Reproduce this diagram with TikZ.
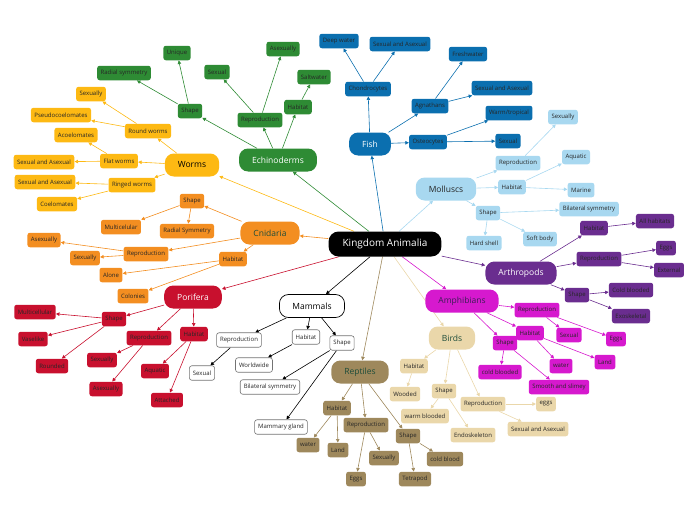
\documentclass[tikz,border=0pt]{standalone}
\usepackage{fontspec}
\setmainfont{Open Sans}
\usetikzlibrary{arrows.meta,backgrounds}
\definecolor{wormc}{HTML}{FDB913}
\definecolor{echc}{HTML}{2E8B34}
\definecolor{fishc}{HTML}{0B6FAF}
\definecolor{molc}{HTML}{A8D8F0}
\definecolor{artc}{HTML}{6A2D8F}
\definecolor{ampc}{HTML}{D619CE}
\definecolor{birc}{HTML}{EAD7AA}
\definecolor{repc}{HTML}{9E885C}
\definecolor{cnic}{HTML}{F38E21}
\definecolor{porc}{HTML}{C8102E}
\definecolor{darkgreen}{HTML}{1E4D3A}
\tikzset{
  root/.style={fill=black, text=white, rounded corners=10pt, minimum height=25pt, inner xsep=14pt, font=\fontsize{10}{12}\selectfont},
  hub/.style={rounded corners=9pt, minimum height=23pt, inner xsep=13pt, font=\fontsize{8.5}{10}\selectfont},
  leaf/.style={rounded corners=2.5pt, minimum height=14.5pt, inner xsep=3.5pt, inner ysep=1pt, text=black!85, font=\fontsize{6}{7}\selectfont},
  link/.style={-{Triangle[length=3.5pt,width=3.5pt]}, line width=0.6pt},
  worm/.style={leaf, fill=wormc}, echi/.style={leaf, fill=echc}, fish/.style={leaf, fill=fishc},
  moll/.style={leaf, fill=molc}, arth/.style={leaf, fill=artc}, amph/.style={leaf, fill=ampc},
  bird/.style={leaf, fill=birc}, rept/.style={leaf, fill=repc}, cnid/.style={leaf, fill=cnic},
  pori/.style={leaf, fill=porc}, mamm/.style={leaf, fill=white, draw=black!55, line width=0.6pt},
}
\begin{document}
\begin{tikzpicture}[x=1pt, y=-1pt]
	\useasboundingbox (0,0) rectangle (696,520);
	% Centre and main groups:
	\node[root] (kingdom) at (385,244) {Kingdom Animalia};
	\node[hub, fill=wormc] (worms) at (192,165) {Worms};
	\node[hub, fill=echc, text=white] (echinoderms) at (278,160) {Echinoderms};
	\node[hub, fill=fishc, text=white] (fish) at (370,144) {Fish};
	\node[hub, fill=molc, text=black!85] (molluscs) at (446,189) {Molluscs};
	\node[hub, fill=artc, text=white] (arthropods) at (521,273) {Arthropods};
	\node[hub, fill=ampc, text={rgb,255:red,58;green,30;blue,85}] (amphibians) at (462,301) {Amphibians};
	\node[hub, fill=birc, text=darkgreen] (birds) at (452,338) {Birds};
	\node[hub, fill=repc, text=darkgreen] (reptiles) at (360,372) {Reptiles};
	\node[hub, fill=white, draw=black, line width=0.7pt] (mammals) at (312,306) {Mammals};
	\node[hub, fill=cnic, text=darkgreen] (cnidaria) at (270,233) {Cnidaria};
	\node[hub, fill=porc, text=white] (porifera) at (193,297) {Porifera};
	% Worms
	\node[worm] (wround) at (148,131) {Round worms};
	\node[worm] (wflat) at (119,161) {Flat worms};
	\node[worm] (wringed) at (132,185) {Ringed worms};
	\node[worm] (wsexually) at (91,94) {Sexually};
	\node[worm] (wpseudo) at (61,115) {Pseudocoelomates};
	\node[worm] (wacoel) at (76,135) {Acoelomates};
	\node[worm] (wsexasex) at (44,162) {Sexual and Asexual};
	\node[worm] (wsexasexb) at (45,182) {Sexual and Asexual};
	\node[worm] (wcoel) at (57,204) {Coelomates};
	% Echinoderms
	\node[echi] (eshape) at (190,111) {Shape};
	\node[echi] (erepro) at (260,120) {Reproduction};
	\node[echi] (ehabitat) at (298,107) {Habitat};
	\node[echi] (eunique) at (177,53) {Unique};
	\node[echi] (eradial) at (124,73) {Radial symmetry};
	\node[echi] (esexual) at (217,72) {Sexual};
	\node[echi] (easexually) at (283,49) {Asexually};
	\node[echi] (esalt) at (314,77) {Saltwater};
	% Fish
	\node[fish] (fchondro) at (368,89) {Chondrocytes};
	\node[fish] (fagnath) at (430,106) {Agnathans};
	\node[fish] (fosteo) at (428,142) {Osteocytes};
	\node[fish] (fdeep) at (339,41) {Deep water};
	\node[fish] (fsexasex) at (400,44) {Sexual and Asexual};
	\node[fish] (ffresh) at (468,54) {Freshwater};
	\node[fish] (fsexasexb) at (502,88) {Sexual and Asexual};
	\node[fish] (fwarm) at (509,113) {Warm/tropical};
	\node[fish] (fsexual) at (508,141) {Sexual};
	% Molluscs
	\node[moll] (mrepro) at (518,163) {Reproduction};
	\node[moll] (mhabitat) at (512,187) {Habitat};
	\node[moll] (mshape) at (488,213) {Shape};
	\node[moll] (msexually) at (563,117) {Sexually};
	\node[moll] (maquatic) at (576,157) {Aquatic};
	\node[moll] (mmarine) at (581,190) {Marine};
	\node[moll] (mbilat) at (589,209) {Bilateral symmetry};
	\node[moll] (mhard) at (484,243) {Hard shell};
	\node[moll] (msoft) at (540,239) {Soft body};
	% Arthropods
	\node[arth] (ahabitat) at (594,228) {Habitat};
	\node[arth] (arepro) at (599,259) {Reproduction};
	\node[arth] (ashape) at (577,295) {Shape};
	\node[arth] (aall) at (655,221) {All habitats};
	\node[arth] (aeggs) at (666,248) {Eggs};
	\node[arth] (aext) at (669,270) {External};
	\node[arth] (acold) at (631,290) {Cold blooded};
	\node[arth] (aexo) at (631,316) {Exoskeletal};
	% Amphibians
	\node[amph] (prepro) at (537,310) {Reproduction};
	\node[amph] (pshape) at (505,343) {Shape};
	\node[amph] (phabitat) at (530,333) {Habitat};
	\node[amph] (psexual) at (569,335) {Sexual};
	\node[amph] (peggs) at (616,339) {Eggs};
	\node[amph] (pwater) at (561,366) {water};
	\node[amph] (pland) at (605,362) {Land};
	\node[amph] (pcold) at (500,372) {cold blooded};
	\node[amph] (psmooth) at (559,387) {Smooth and slimey};
	% Birds
	\node[bird] (bhabitat) at (414,366) {Habitat};
	\node[bird] (bshape) at (444,391) {Shape};
	\node[bird] (brepro) at (483,404) {Reproduction};
	\node[bird] (bwooded) at (405,394) {Wooded};
	\node[bird] (bwarm) at (425,416) {warm blooded};
	\node[bird] (bendo) at (473,435) {Endoskeleton};
	\node[bird] (beggs) at (546,404) {eggs};
	\node[bird] (bsexasex) at (538,429) {Sexual and Asexual};
	% Reptiles
	\node[rept] (rhabitat) at (337,408) {Habitat};
	\node[rept] (rrepro) at (366,425) {Reproduction};
	\node[rept] (rshape) at (408,436) {Shape};
	\node[rept] (rwater) at (308,445) {water};
	\node[rept] (rland) at (338,450) {Land};
	\node[rept] (reggs) at (356,479) {Eggs};
	\node[rept] (rsexually) at (384,458) {Sexually};
	\node[rept] (rtetra) at (415,479) {Tetrapod};
	\node[rept] (rcold) at (445,459) {cold blood};
	% Mammals
	\node[mamm] (nrepro) at (239,340) {Reproduction};
	\node[mamm] (nhabitat) at (306,337) {Habitat};
	\node[mamm] (nshape) at (342,343) {Shape};
	\node[mamm] (nsexual) at (202,373) {Sexual};
	\node[mamm] (nworld) at (254,365) {Worldwide};
	\node[mamm] (nbilat) at (270,387) {Bilateral symmetry};
	\node[mamm] (ngland) at (281,427) {Mammary gland};
	% Cnidaria
	\node[cnid] (cshape) at (192,201) {Shape};
	\node[cnid] (crepro) at (146,254) {Reproduction};
	\node[cnid] (chabitat) at (233,259) {Habitat};
	\node[cnid] (cmulti) at (121,227) {Multicelular};
	\node[cnid] (cradial) at (187,231) {Radial Symmetry};
	\node[cnid] (casexually) at (44,240) {Asexually};
	\node[cnid] (csexually) at (85,258) {Sexually};
	\node[cnid] (calone) at (111,275) {Alone};
	\node[cnid] (ccolonies) at (133,296) {Colonies};
	% Porifera
	\node[pori] (oshape) at (114,319) {Shape};
	\node[pori] (orepro) at (149,338) {Reproduction};
	\node[pori] (ohabitat) at (194,334) {Habitat};
	\node[pori] (omulti) at (35,312) {Multicellular};
	\node[pori] (ovase) at (33,339) {Vaselike};
	\node[pori] (orounded) at (52,366) {Rounded};
	\node[pori] (osexually) at (102,360) {Sexually};
	\node[pori] (oasexually) at (106,389) {Asexually};
	\node[pori] (oaquatic) at (155,371) {Aquatic};
	\node[pori] (oattached) at (167,400) {Attached};
	% Connectors:
	\begin{scope}[on background layer]
	\path[link, wormc] (kingdom) edge (worms) (worms) edge (wround) edge (wflat) edge (wringed)
		(wround) edge (wsexually) edge (wpseudo) (wflat) edge (wacoel) edge (wsexasex)
		(wringed) edge (wsexasexb) edge (wcoel);
	\path[link, echc] (kingdom) edge (echinoderms) (echinoderms) edge (eshape) edge (erepro) edge (ehabitat)
		(eshape) edge (eunique) edge (eradial) (erepro) edge (esexual) edge (easexually) (ehabitat) edge (esalt);
	\path[link, fishc] (kingdom) edge (fish) (fish) edge (fchondro) edge (fagnath) edge (fosteo)
		(fchondro) edge (fdeep) edge (fsexasex) (fagnath) edge (ffresh) edge (fsexasexb)
		(fosteo) edge (fwarm) edge (fsexual);
	\path[link, molc] (kingdom) edge (molluscs) (molluscs) edge (mrepro) edge (mhabitat) edge (mshape)
		(mrepro) edge (msexually) (mhabitat) edge (maquatic) edge (mmarine)
		(mshape) edge (mbilat) edge (mhard) edge (msoft);
	\path[link, artc] (kingdom) edge (arthropods) (arthropods) edge (ahabitat) edge (arepro) edge (ashape)
		(ahabitat) edge (aall) (arepro) edge (aeggs) edge (aext) (ashape) edge (acold) edge (aexo);
	\path[link, ampc] (kingdom) edge (amphibians) (amphibians) edge (prepro) edge (phabitat) edge (pshape)
		(prepro) edge (psexual) edge (peggs) (phabitat) edge (pwater) edge (pland)
		(pshape) edge (pcold) edge (psmooth);
	\path[link, birc] (kingdom) edge (birds) (birds) edge (bhabitat) edge (bshape) edge (brepro)
		(bhabitat) edge (bwooded) (bshape) edge (bwarm) edge (bendo) (brepro) edge (beggs) edge (bsexasex);
	\path[link, repc] (kingdom) edge (reptiles) (reptiles) edge (rhabitat) edge (rrepro) edge (rshape)
		(rhabitat) edge (rwater) edge (rland) (rrepro) edge (reggs) edge (rsexually)
		(rshape) edge (rtetra) edge (rcold);
	\path[link, black] (kingdom) edge (mammals) (mammals) edge (nrepro) edge (nhabitat) edge (nshape)
		(nrepro) edge (nsexual) (nhabitat) edge (nworld) (nshape) edge (nbilat) edge (ngland);
	\path[link, cnic] (kingdom) edge (cnidaria) (cnidaria) edge (cshape) edge (crepro) edge (chabitat)
		(cshape) edge (cmulti) edge (cradial) (crepro) edge (casexually) edge (csexually)
		(chabitat) edge (calone) edge (ccolonies);
	\path[link, porc] (kingdom) edge (porifera) (porifera) edge (oshape) edge (orepro) edge (ohabitat)
		(oshape) edge (omulti) edge (ovase) edge (orounded) (orepro) edge (osexually) edge (oasexually)
		(ohabitat) edge (oaquatic) edge (oattached);
	\end{scope}
\end{tikzpicture}
\end{document}
